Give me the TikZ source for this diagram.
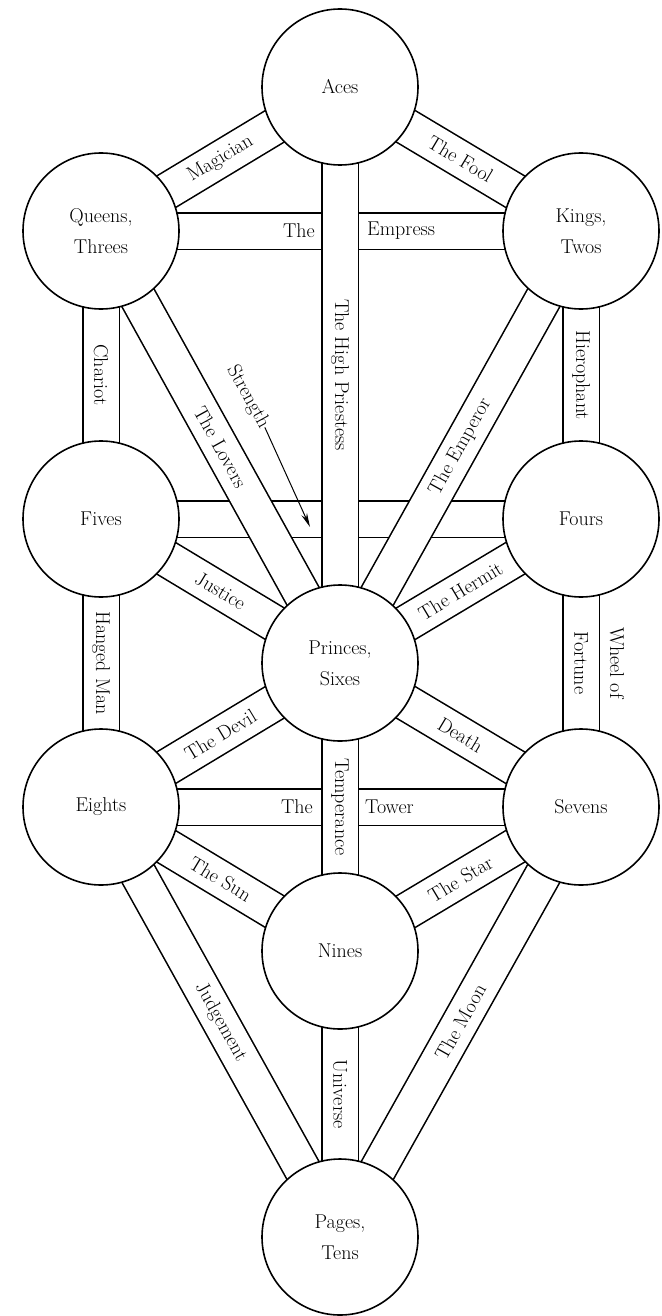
\documentclass[tikz,border=0pt]{standalone}
\usepackage{fontspec}
\usetikzlibrary{arrows.meta,positioning,calc}
\pgfdeclarelayer{background}
\pgfsetlayers{background,main}

\begin{document}
\begin{tikzpicture}[x=1pt,y=-1pt,
    sephira/.style={circle,draw,line width=1.6pt,fill=white,minimum size=156pt,inner sep=0pt,align=center,font=\fontsize{20}{31}\selectfont},
    pathband/.style={draw,line width=1.6pt,double=white,double distance=35pt},
    lbl/.style={inner sep=0pt,font=\fontsize{20}{24}\selectfont}]
    \useasboundingbox (0,0) rectangle (661,1316);
    \foreach \nm/\x/\y/\txt in {aces/340/87/Aces, kings/581/231/{Kings,\\Twos}, queens/101/231/{Queens,\\Threes},
        fours/581/519/Fours, fives/101/519/Fives, princes/340/663/{Princes,\\Sixes},
        sevens/581/807/Sevens, eights/101/807/Eights, nines/340/951/Nines, pages/340/1237/{Pages,\\Tens}}
      { \node[sephira] (\nm) at (\x,\y) {\txt}; }
    \begin{pgfonlayer}{background}
      \draw[pathband] (queens.center) -- (kings.center);
      \draw[pathband] (fives.center) -- (fours.center);
      \draw[pathband] (eights.center) -- (sevens.center);
      \draw[pathband] (aces.center) -- node[lbl,rotate=-90] (priestess) {The High Priestess} (princes.center);
      \draw[pathband] (queens.center) -- node[lbl,sloped] (magician) {Magician} (aces.center);
      \draw[pathband] (aces.center) -- node[lbl,sloped] (fool) {The Fool} (kings.center);
      \draw[pathband] (queens.center) -- node[lbl,rotate=-90] (chariot) {Chariot} (fives.center);
      \draw[pathband] (kings.center) -- node[lbl,rotate=-90] (hierophant) {Hierophant} (fours.center);
      \draw[pathband] (queens.center) -- node[lbl,sloped] (lovers) {The Lovers} (princes.center);
      \draw[pathband] (princes.center) -- node[lbl,sloped] (emperor) {The Emperor} (kings.center);
      \draw[pathband] (fives.center) -- node[lbl,sloped] (justice) {Justice} (princes.center);
      \draw[pathband] (princes.center) -- node[lbl,sloped] (hermit) {The Hermit} (fours.center);
      \draw[pathband] (fives.center) -- node[lbl,rotate=-90] (hanged) {Hanged Man} (eights.center);
      \draw[pathband] (fours.center) -- node[lbl,rotate=-90] (fortune) {Fortune} (sevens.center);
      \draw[pathband] (eights.center) -- node[lbl,sloped] (devil) {The Devil} (princes.center);
      \draw[pathband] (princes.center) -- node[lbl,sloped] (death) {Death} (sevens.center);
      \draw[pathband] (princes.center) -- node[lbl,rotate=-90] (temperance) {Temperance} (nines.center);
      \draw[pathband] (eights.center) -- node[lbl,sloped] (sun) {The Sun} (nines.center);
      \draw[pathband] (nines.center) -- node[lbl,sloped] (star) {The Star} (sevens.center);
      \draw[pathband] (eights.center) -- node[lbl,sloped] (judgement) {Judgement} (pages.center);
      \draw[pathband] (pages.center) -- node[lbl,sloped] (moon) {The Moon} (sevens.center);
      \draw[pathband] (nines.center) -- node[lbl,rotate=-90] (universe) {Universe} (pages.center);
    \end{pgfonlayer}
    \node[lbl,anchor=east] (empressa) at ($(aces |- queens)+(-25,0)$) {The};
    \node[lbl,anchor=west] (empressb) at ($(aces |- queens)+(27,0)$) {Empress};
    \node[lbl,anchor=east] (towera) at ($(princes |- eights)+(-27,0)$) {The};
    \node[lbl,anchor=west] (towerb) at ($(princes |- eights)+(25,0)$) {Tower};
    \node[lbl,rotate=-90] (wheel) at ($(fours)!0.5!(sevens)+(36,0)$) {Wheel of};
    \node[lbl,rotate=-61] (strength) at (248,397) {Strength};
    \coordinate (strengthtip) at (310,527);
    \draw[line width=1pt,-{Stealth[length=14pt,width=6pt]}] (strength.east) -- (strengthtip);
  \end{tikzpicture}
\end{document}
